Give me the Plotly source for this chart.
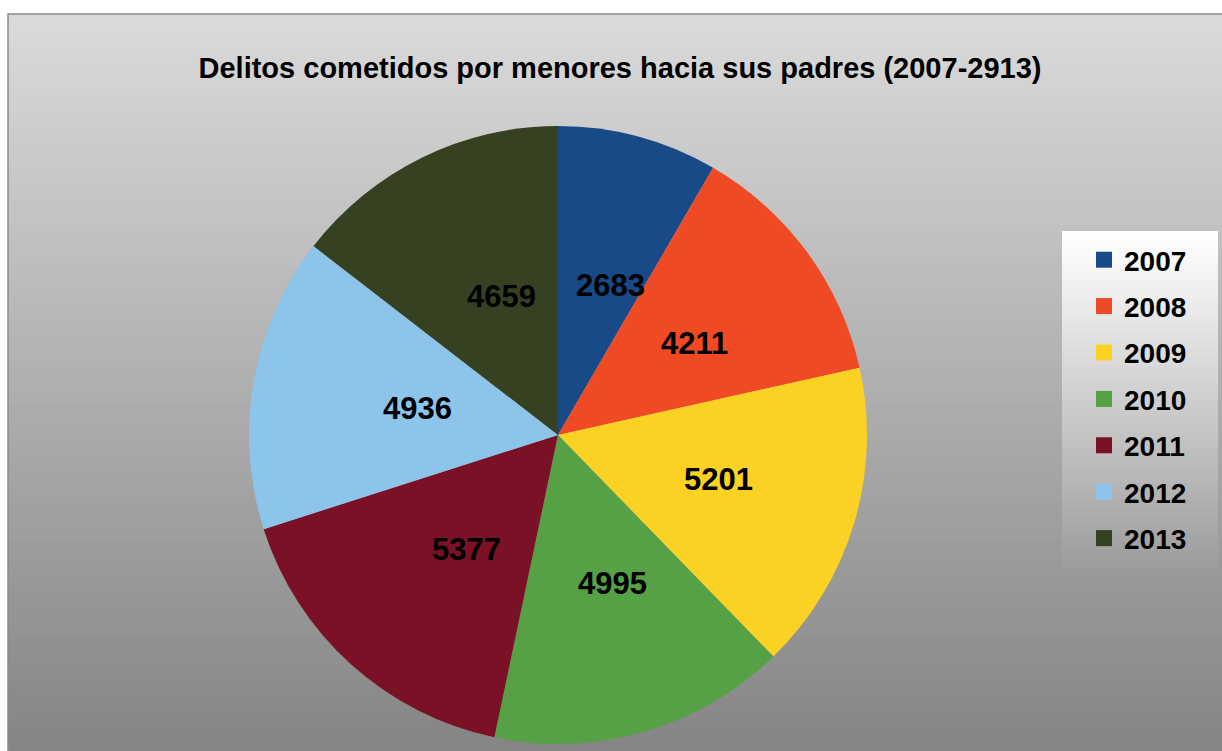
import math
import plotly.graph_objects as go

years = ["2007", "2008", "2009", "2010", "2011", "2012", "2013"]
values = [2683, 4211, 5201, 4995, 5377, 4936, 4659]
colors = ["#174a86", "#ef4a24", "#fbd123", "#56a045", "#7b1126", "#8dc4ea", "#364122"]
title_text = "Delitos cometidos por menores hacia sus padres (2007-2913)"

W, H = 1222, 751
FONT = "Liberation Sans, Arial, sans-serif"
CX, CY, R = 558, 435, 309  # pie centre and radius in pixels

fig = go.Figure()

fig.add_trace(go.Pie(
    labels=years,
    values=values,
    sort=False,
    direction="clockwise",
    rotation=0,
    marker=dict(colors=colors, line=dict(width=0)),
    textinfo="none",
    showlegend=False,
    hoverinfo="label+value",
    domain=dict(x=[(CX - R)/W, (CX + R)/W],
                y=[1 - (CY + R)/H, 1 - (CY - R)/H]),
))

# legend entries as hidden square markers
for yr, c in zip(years, colors):
    fig.add_trace(go.Scatter(
        x=[None], y=[None], mode="markers", name=yr,
        legendgroup=yr,
        marker=dict(symbol="square", size=16, color=c),
        showlegend=True,
    ))

# value labels at half radius on each slice's mid-angle (computed from the data)
total = sum(values)
annotations = []
cum = 0
for v in values:
    mid = (cum + v / 2) / total * 2 * math.pi
    cum += v
    px = CX + 0.5 * R * math.sin(mid)
    py = CY - 0.5 * R * math.cos(mid)
    annotations.append(dict(
        x=px/W, y=1 - py/H, xref="paper", yref="paper", xshift=12,
        text=f"{v}", showarrow=False, xanchor="center", yanchor="middle",
        font=dict(family=FONT, size=31, color="black", weight="bold")))

def lerp(a, b, t):
    return int(round(a + (b - a) * t))

shapes = []
# background gradient
N = 70
y0p, y1p = 14, H
for i in range(N):
    t = i / (N - 1)
    v = lerp(218, 133, t)
    ya = y0p + (y1p - y0p) * i / N
    yb = y0p + (y1p - y0p) * (i + 1) / N + 1
    shapes.append(dict(type="rect", xref="paper", yref="paper",
                       x0=8/W, x1=1, y0=1 - yb/H, y1=1 - ya/H,
                       fillcolor=f"rgb({v},{v},{v})", line=dict(width=0), layer="below"))
# outer border
shapes.append(dict(type="rect", xref="paper", yref="paper",
                   x0=8/W, x1=1.01, y0=-0.01, y1=1 - 14/H,
                   fillcolor="rgba(0,0,0,0)", line=dict(width=1.5, color="#8a8a8a"), layer="below"))
# legend box gradient
lx0, lx1, ly0, ly1 = 1062, 1218, 231, 567
M = 40
for i in range(M):
    t = i / (M - 1)
    v = lerp(255, 158, t)
    ya = ly0 + (ly1 - ly0) * i / M
    yb = ly0 + (ly1 - ly0) * (i + 1) / M + 1
    if i == M - 1:
        yb = ly1
    shapes.append(dict(type="rect", xref="paper", yref="paper",
                       x0=lx0/W, x1=lx1/W, y0=1 - yb/H, y1=1 - ya/H,
                       fillcolor=f"rgb({v},{v},{v})", line=dict(width=0), layer="below"))

fig.update_layout(
    width=W, height=H,
    margin=dict(l=0, r=0, t=0, b=0),
    paper_bgcolor="white",
    plot_bgcolor="rgba(0,0,0,0)",
    shapes=shapes,
    annotations=annotations,
    xaxis=dict(visible=False, domain=[0, 0.01]),
    yaxis=dict(visible=False, domain=[0, 0.01]),
    title=dict(text=title_text, x=620/W, xanchor="center", y=1 - 68/H, yanchor="middle",
               font=dict(family=FONT, size=29, color="black", weight="bold")),
    legend=dict(x=1084/W, xanchor="left", y=1 - 235/H, yanchor="top",
                bgcolor="rgba(0,0,0,0)", borderwidth=0,
                traceorder="grouped", tracegroupgap=7,
                font=dict(family=FONT, size=28, color="black", weight="bold"),
                itemclick=False),
    hovermode=False,
)

fig.write_html("out.html")
